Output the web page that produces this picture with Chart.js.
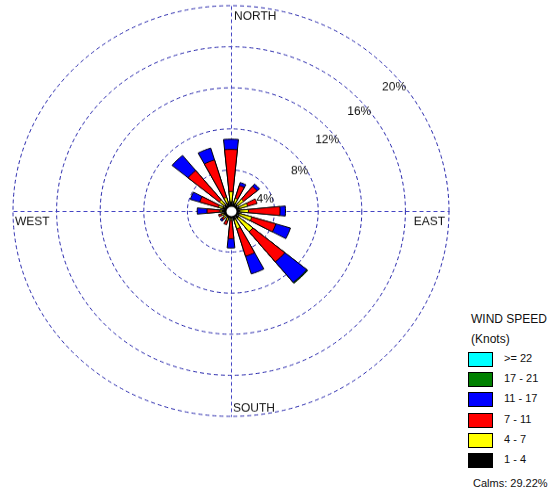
<!DOCTYPE html>
<html>
<head>
<meta charset="utf-8">
<script src="https://cdn.jsdelivr.net/npm/chart.js@4.4.1/dist/chart.umd.min.js"></script>
<style>
  body { margin: 0; background: #fff; }
  #wrap { position: relative; width: 550px; height: 492px; overflow: hidden;
          font-family: Arial, "Liberation Sans", sans-serif; color: #111; }
  /* the rose is drawn round, then flattened a little like the printed plot */
  #rose { position: absolute; left: 1px; top: -19px;
          transform-origin: 230px 230px; transform: scaleY(0.942); }
  #legend { position: absolute; left: 0; top: 0; font-size: 11px; }
  #legend div { position: absolute; white-space: nowrap; }
  #legend .title { font-size: 12px; }
  #legend .swatch { width: 23px; height: 13px; border: 1px solid #000; }
</style>
</head>
<body>
<div id="wrap">
  <canvas id="rose" width="460" height="460"></canvas>
  <div id="legend"></div>
</div>
<script>
const directions = ['N', 'NNE', 'NE', 'ENE', 'E', 'ESE', 'SE', 'SSE',
                    'S', 'SSW', 'SW', 'WSW', 'W', 'WNW', 'NW', 'NNW'];

// frequency (%) per direction for each wind speed class (knots)
const kt1to4   = [0.9, 0.8, 0.8, 0.8, 0.8, 0.8, 0.9, 0.9, 0.7, 0.7, 0.6, 0.7, 0.8, 0.8, 0.8, 0.8];
const kt4to7   = [1.0, 0.5, 0.7, 0.8, 0.8, 1.2, 1.7, 0.9, 0.2, 0.3, 0.3, 0.2, 0.2, 0.4, 0.6, 0.6];
const kt7to11  = [4.1, 1.3, 1.6, 0.9, 2.9, 2.3, 3.8, 2.8, 1.8, 0.4, 0.2, 0.3, 1.2, 1.8, 3.7, 3.8];
const kt11to17 = [1.0, 0.3, 0.3, 0.0, 0.5, 1.4, 2.6, 1.8, 0.9, 0.0, 0.2, 0.0, 0.9, 0.9, 1.9, 1.2];
const kt17to21 = [0, 0, 0, 0, 0, 0, 0.1, 0, 0, 0, 0, 0, 0, 0, 0, 0];
const kt22up   = [0, 0, 0, 0, 0, 0, 0, 0, 0, 0, 0, 0, 0, 0, 0, 0];

const speedClasses = ['1 - 4', '4 - 7', '7 - 11', '11 - 17', '17 - 21', '>= 22'];
const speedColors  = ['#000000', '#ffff00', '#ff0000', '#0000ff', '#008000', '#00ffff'];
const calms = 29.22;

const ringTicks = [4, 8, 12, 16, 20];
const ringLabelAngle = [74, 61, 55, 53, 53];   // where each % label sits, degrees from north
const gridColor = '#2222aa';
const axisColor = '#4444c4';

const classValues = [kt1to4, kt4to7, kt7to11, kt11to17, kt17to21, kt22up];

// each petal takes half a sector, the other half stays empty
const slotLabels = [];
directions.forEach(d => { slotLabels.push(d); slotLabels.push(''); });

// stacked petals: every class is drawn as an arc out to its running total,
// the slower classes sit on top of the faster ones
const datasets = classValues.map((vals, k) => {
  const data = [];
  directions.forEach((d, i) => {
    let total = 0;
    for (let j = 0; j <= k; j++) total += classValues[j][i];
    data.push(vals[i] > 0 ? +total.toFixed(2) : 0);
    data.push(0);
  });
  return {
    label: speedClasses[k],
    data: data,
    backgroundColor: speedColors[k],
    borderColor: '#000',
    borderWidth: ctx => (ctx.dataIndex % 2 === 0 && ctx.raw > 0) ? 1 : 0
  };
});

const roseDecor = {
  id: 'roseDecor',
  beforeDatasetsDraw(chart) {
    const r = chart.scales.r;
    const ctx = chart.ctx;
    const R = r.getDistanceFromCenterForValue(r.max);
    const cx = r.xCenter + 0.5, cy = r.yCenter + 0.5;
    ctx.save();
    ctx.strokeStyle = axisColor;
    ctx.lineWidth = 1;
    ctx.setLineDash([4, 3]);
    ctx.beginPath();
    ctx.moveTo(cx, cy - R); ctx.lineTo(cx, cy + R);
    ctx.moveTo(cx - R, cy); ctx.lineTo(cx + R, cy);
    ctx.stroke();
    ctx.restore();
  },
  afterDatasetsDraw(chart) {
    const r = chart.scales.r;
    const ctx = chart.ctx;
    const R = r.getDistanceFromCenterForValue(r.max);
    const cx = r.xCenter, cy = r.yCenter;

    // calm circle in the middle
    ctx.save();
    ctx.beginPath();
    ctx.arc(cx + 0.5, cy + 0.5, 6, 0, Math.PI * 2);
    ctx.fillStyle = '#fff';
    ctx.fill();
    ctx.lineWidth = 2;
    ctx.strokeStyle = '#000';
    ctx.stroke();

    ctx.fillStyle = '#111';
    ctx.font = '12px Arial, "Liberation Sans", sans-serif';
    ctx.textBaseline = 'middle';
    ctx.textAlign = 'left';
    ctx.fillText('NORTH', cx + 3, cy - R + 12);
    ctx.fillText('SOUTH', cx + 2, cy + R - 8);
    ctx.fillText('WEST', cx - R + 2, cy + 12);
    ctx.textAlign = 'right';
    ctx.fillText('EAST', cx + R - 4, cy + 12);

    ringTicks.forEach((v, i) => {
      const d = r.getDistanceFromCenterForValue(v);
      const a = ringLabelAngle[i] * Math.PI / 180;
      ctx.fillText(v + '%', cx + d * Math.sin(a) + 1, cy - d * Math.cos(a));
    });
    ctx.restore();
  }
};

new Chart(document.getElementById('rose'), {
  type: 'polarArea',
  data: { labels: slotLabels, datasets: datasets },
  options: {
    responsive: false,
    animation: false,
    layout: { padding: 12 },
    plugins: { legend: { display: false }, tooltip: { enabled: false } },
    scales: {
      r: {
        min: 0,
        max: 20,
        startAngle: -5.625,
        ticks: { display: false, stepSize: 4 },
        grid: { circular: true, color: gridColor, lineWidth: 1 },
        border: { dash: [4, 3] },
        angleLines: { display: false },
        pointLabels: { display: false }
      }
    }
  },
  plugins: [roseDecor]
});

// legend, fastest class first
const legend = document.getElementById('legend');
function addDiv(cls, text, left, top, extra) {
  const el = document.createElement('div');
  if (cls) el.className = cls;
  if (text) el.textContent = text;
  el.style.left = left + 'px';
  el.style.top = top + 'px';
  Object.assign(el.style, extra || {});
  legend.appendChild(el);
}
addDiv('title', 'WIND SPEED', 471, 312);
addDiv('title', '(Knots)', 471, 332);
speedClasses.slice().reverse().forEach((name, i) => {
  const k = speedClasses.length - 1 - i;
  addDiv('swatch', '', 468, 352 + i * 20.2, { background: speedColors[k] });
  addDiv('', name, 504, 352 + i * 20.2);
});
addDiv('', 'Calms: ' + calms.toFixed(2) + '%', 473, 477);
</script>
</body>
</html>
